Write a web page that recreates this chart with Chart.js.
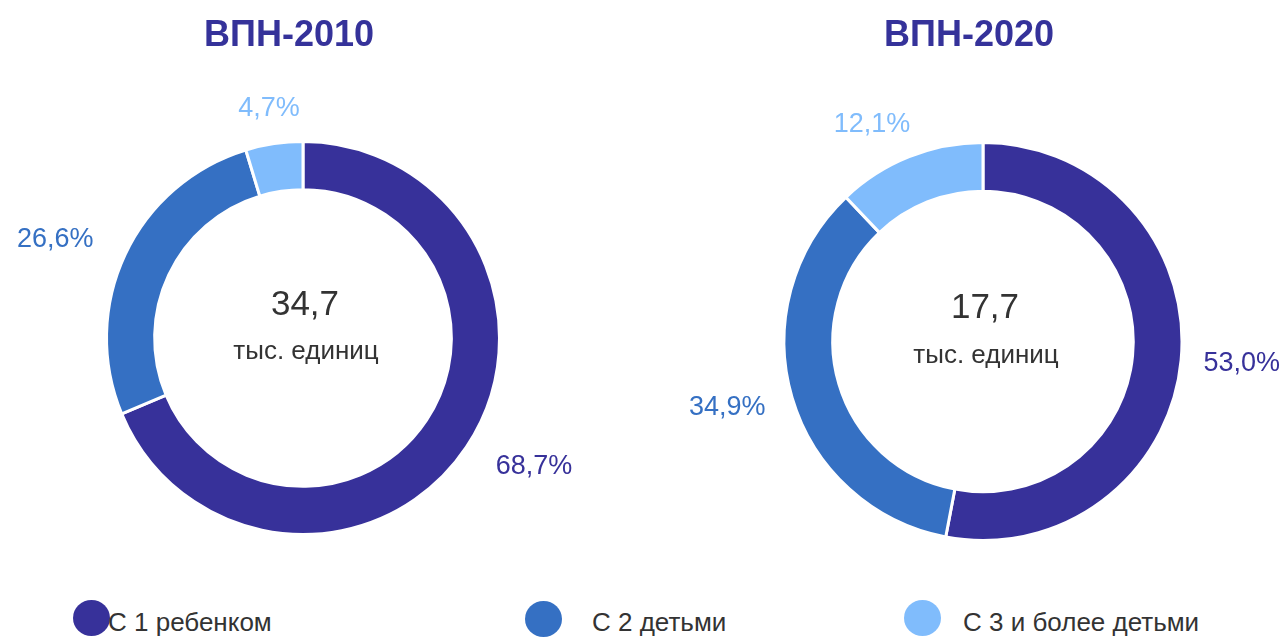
<!DOCTYPE html>
<html><head><meta charset="utf-8">
<script src="https://cdn.jsdelivr.net/npm/chart.js@4/dist/chart.umd.min.js"></script>
<style>
html,body{margin:0;padding:0;background:#fff;}
body{width:1283px;height:637px;overflow:hidden;position:relative;font-family:"Liberation Sans",Arial,sans-serif;}
.wrap{position:absolute;top:0;width:600px;height:600px;}
.lg-dot{position:absolute;width:37px;height:36px;border-radius:50%;}
.lg-txt{position:absolute;font-size:26px;color:#333;line-height:30px;white-space:nowrap;}
</style></head>
<body>
<div class="wrap" style="left:3px"><canvas id="c1" width="600" height="600"></canvas></div>
<div class="wrap" style="left:683px"><canvas id="c2" width="600" height="600"></canvas></div>
<div id="legend"></div>
<script>
const categories = ['С 1 ребенком', 'С 2 детьми', 'С 3 и более детьми'];
const values2010 = [68.7, 26.6, 4.7];
const values2020 = [53.0, 34.9, 12.1];
const titles = ['ВПН-2010', 'ВПН-2020'];
const totals = ['34,7', '17,7'];
const unitLabel = 'тыс. единиц';

const colors = ['#37319a', '#3570c3', '#80bcfc'];
const titleColor = '#35329a';
const textColor = '#333333';
const FONT = '"Liberation Sans", Arial, sans-serif';

const fmt = v => v.toFixed(1).replace('.', ',') + '%';

const decorPlugin = {
  id: 'decor',
  afterDatasetsDraw(chart, args, opts) {
    const ctx = chart.ctx;
    const meta = chart.getDatasetMeta(0);
    const arc0 = meta.data[0];
    const cx = arc0.x, cy = arc0.y;
    ctx.save();
    // title
    ctx.fillStyle = titleColor;
    ctx.font = 'bold 36px ' + FONT;
    ctx.textAlign = 'center';
    ctx.textBaseline = 'middle';
    ctx.fillText(opts.title, cx - 14, 36);
    // center text
    ctx.fillStyle = textColor;
    ctx.font = '35px ' + FONT;
    ctx.fillText(opts.total, cx + 2, cy - 33);
    ctx.font = '26px ' + FONT;
    ctx.fillText(unitLabel, cx + 3, cy + 14);
    // outside labels
    ctx.font = '27px ' + FONT;
    const ds = chart.data.datasets[0];
    const W = chart.width;
    meta.data.forEach((arc, i) => {
      const mid = (arc.startAngle + arc.endAngle) / 2;
      const r = arc.outerRadius + 35;
      const c = Math.cos(mid);
      const txt = fmt(ds.data[i]);
      const tw = ctx.measureText(txt).width;
      const x = cx + c * r;
      const y = cy + Math.sin(mid) * r;
      // shift text outward progressively as the label moves to the side
      const f = Math.max(0, Math.min(1, (Math.abs(c) - 0.15) / 0.35));
      const centerX = x + Math.sign(c) * (tw / 2) * f;
      let left = centerX - tw / 2;
      // keep label inside the canvas
      left = Math.max(6, Math.min(W - 3 - tw, left));
      ctx.textAlign = 'left';
      ctx.fillStyle = colors[i];
      ctx.fillText(txt, left, y);
    });
    ctx.restore();
  }
};

function makeChart(id, values, title, total, pad) {
  return new Chart(document.getElementById(id), {
    type: 'doughnut',
    data: {
      labels: categories,
      datasets: [{
        data: values,
        backgroundColor: colors,
        borderColor: '#ffffff',
        borderWidth: 3,
        hoverOffset: 0,
        offset: 0
      }]
    },
    options: {
      responsive: false,
      animation: false,
      cutout: '75.5%',
      layout: { padding: pad },
      events: [],
      plugins: {
        legend: { display: false },
        tooltip: { enabled: false },
        title: { display: false },
        decor: { title: title, total: total }
      }
    },
    plugins: [decorPlugin]
  });
}

makeChart('c1', values2010, titles[0], totals[0], { top: 140, bottom: 64, left: 102, right: 102 });
makeChart('c2', values2020, titles[1], totals[1], { top: 141, bottom: 58, left: 99.5, right: 99.5 });

// legend
const legendDots = [[73, 600], [525, 601], [904, 600]];
const legendText = [108, 592, 963];
const lg = document.getElementById('legend');
categories.forEach((name, i) => {
  const d = document.createElement('div');
  d.className = 'lg-dot';
  d.style.left = legendDots[i][0] + 'px';
  d.style.top = legendDots[i][1] + 'px';
  d.style.background = colors[i];
  lg.appendChild(d);
  const t = document.createElement('div');
  t.className = 'lg-txt';
  t.style.left = legendText[i] + 'px';
  t.style.top = '607px';
  t.textContent = name;
  lg.appendChild(t);
});
</script>
</body></html>
